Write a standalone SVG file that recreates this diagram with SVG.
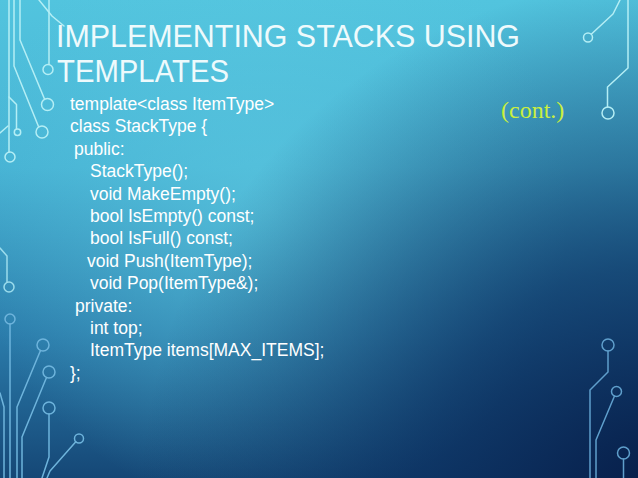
<svg xmlns="http://www.w3.org/2000/svg" width="638" height="478" viewBox="0 0 638 478">
  <defs>
    <linearGradient id="bgv" x1="0" y1="0" x2="0" y2="478" gradientUnits="userSpaceOnUse">
      <stop offset="0" stop-color="#52c4de"/>
      <stop offset="0.35" stop-color="#47b3d4"/>
      <stop offset="0.7" stop-color="#2b7cab"/>
      <stop offset="1" stop-color="#154776"/>
    </linearGradient>
    <radialGradient id="dark" cx="660" cy="500" r="520" gradientUnits="userSpaceOnUse">
      <stop offset="0" stop-color="#061a45" stop-opacity="0.95"/>
      <stop offset="0.45" stop-color="#0a2c5c" stop-opacity="0.7"/>
      <stop offset="1" stop-color="#0a2c5c" stop-opacity="0"/>
    </radialGradient>
    <radialGradient id="light" cx="270" cy="210" r="300" gradientUnits="userSpaceOnUse">
      <stop offset="0" stop-color="#5fcbe2" stop-opacity="0.6"/>
      <stop offset="1" stop-color="#5fcbe2" stop-opacity="0"/>
    </radialGradient>
  </defs>
  <style>
    .trace { fill: none; stroke-width: 1.5; stroke-linecap: round; stroke-linejoin: round; }
    .top { stroke: #b4eef5; }
    .mid { stroke: #9bdcec; }
    .low { stroke: #6eb4dc; }
    .rlow { stroke: #5f9fcc; }
    .title { font-family: "Liberation Sans", Arial, sans-serif; font-size: 30.5px; fill: #eefafc; }
    .code { font-family: "Liberation Sans", Arial, sans-serif; font-size: 17.5px; fill: #ffffff; }
    .cont { font-family: "Liberation Serif", "Times New Roman", serif; font-size: 24px; fill: #cbef3e; }
  </style>

  <g id="background">
    <rect x="0" y="0" width="638" height="478" fill="url(#bgv)"/>
    <rect x="0" y="0" width="638" height="478" fill="url(#light)"/>
    <rect x="0" y="0" width="638" height="478" fill="url(#dark)"/>
  </g>

  <g id="circuits">
    <!-- top-left -->
    <polyline class="trace top" points="9,0 9,152"/>
    <circle class="trace top" cx="10" cy="157" r="5"/>
    <polyline class="trace top" points="9,97 16.5,104.5 16.5,129"/>
    <circle class="trace top" cx="17.5" cy="132.3" r="3.2"/>
    <polyline class="trace top" points="0,133 8,126"/>
    <polyline class="trace top" points="14,0 14,66 38.5,126.5"/>
    <circle class="trace top" cx="42" cy="132" r="6"/>
    <polyline class="trace top" points="20,0 20,40 44.5,99"/>
    <circle class="trace top" cx="47.5" cy="104.5" r="6"/>
    <polyline class="trace top" points="39,0 52,16 64,26"/>
    <polyline class="trace top" points="49,0 49,64.5"/>
    <circle class="trace top" cx="48" cy="69.5" r="5"/>
    <!-- left middle -->
    <polyline class="trace mid" points="0,248 7,256 7,282"/>
    <circle class="trace mid" cx="9" cy="287" r="5"/>
    <!-- bottom-left -->
    <circle class="trace low" cx="10" cy="319" r="5"/>
    <polyline class="trace low" points="10,324 10,478"/>
    <circle class="trace low" cx="43" cy="345" r="6"/>
    <polyline class="trace low" points="40.5,350.5 17,407 17,478"/>
    <circle class="trace low" cx="49" cy="372" r="6"/>
    <polyline class="trace low" points="46.5,377.5 22,437 22,478"/>
    <circle class="trace low" cx="49" cy="408" r="6"/>
    <polyline class="trace low" points="49,414 49,457 42,478"/>
    <circle class="trace low" cx="79" cy="438.5" r="4.5"/>
    <polyline class="trace low" points="75.8,441.8 50,471 47,478"/>
    <polyline class="trace low" points="0,393 4,407 4,478"/>
    <!-- top-right -->
    <polyline class="trace top" points="620,0 613,14 591.5,34"/>
    <circle class="trace top" cx="588" cy="37.5" r="4.5"/>
    <polyline class="trace top" points="628,0 628,68 607.5,87 607.5,107"/>
    <circle class="trace top" cx="608" cy="113" r="6"/>
    <!-- bottom-right -->
    <circle class="trace rlow" cx="608" cy="345" r="6"/>
    <polyline class="trace rlow" points="608,351 608,372 590,390 590,478"/>
    <circle class="trace rlow" cx="616.5" cy="391.5" r="5"/>
    <polyline class="trace rlow" points="614.5,396 596,440 596,478"/>
    <circle class="trace rlow" cx="623.5" cy="453" r="6"/>
    <polyline class="trace rlow" points="623.5,459 623.5,478"/>
  </g>

  <g id="title">
    <text class="title" x="56" y="47" textLength="464" lengthAdjust="spacingAndGlyphs">IMPLEMENTING STACKS USING</text>
    <text class="title" x="57" y="82" textLength="172" lengthAdjust="spacingAndGlyphs">TEMPLATES</text>
  </g>

  <g id="cont-label">
    <text class="cont" x="501" y="118">(cont.)</text>
  </g>

  <g id="code">
    <text class="code" x="70" y="110">template&lt;class ItemType&gt;</text>
    <text class="code" x="70" y="132.4">class StackType {</text>
    <text class="code" x="74" y="154.8">public:</text>
    <text class="code" x="90" y="177.2">StackType();</text>
    <text class="code" x="90" y="199.6">void MakeEmpty();</text>
    <text class="code" x="90" y="222">bool IsEmpty() const;</text>
    <text class="code" x="90" y="244.4">bool IsFull() const;</text>
    <text class="code" x="87" y="266.8">void Push(ItemType);</text>
    <text class="code" x="90" y="289.2">void Pop(ItemType&amp;);</text>
    <text class="code" x="75" y="311.6">private:</text>
    <text class="code" x="90" y="334">int top;</text>
    <text class="code" x="90" y="356.4">ItemType items[MAX_ITEMS];</text>
    <text class="code" x="70" y="378.8">};</text>
  </g>
</svg>
